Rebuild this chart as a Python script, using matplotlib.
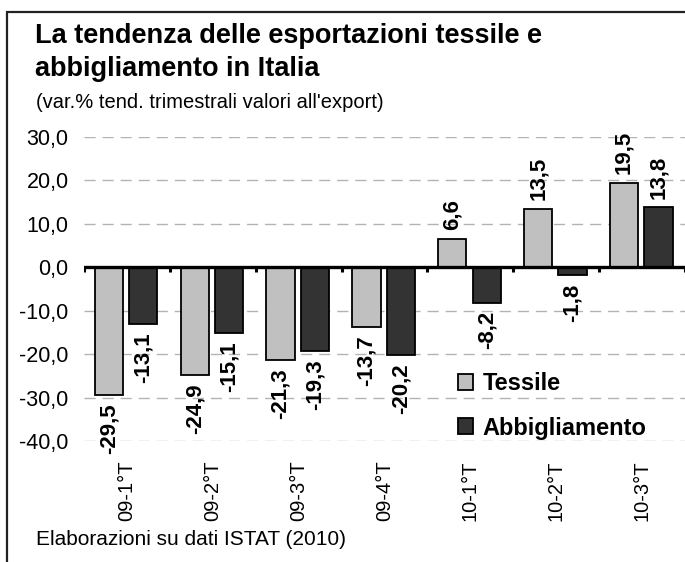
import matplotlib
matplotlib.use("Agg")
import matplotlib.pyplot as plt
from matplotlib.patches import Rectangle, Patch
import numpy as np

plt.rcParams['font.family'] = ['Liberation Sans', 'DejaVu Sans']

quarters = ["09-1°T", "09-2°T", "09-3°T", "09-4°T", "10-1°T", "10-2°T", "10-3°T"]
tessile = [-29.5, -24.9, -21.3, -13.7, 6.6, 13.5, 19.5]
abbigliamento = [-13.1, -15.1, -19.3, -20.2, -8.2, -1.8, 13.8]
series_names = ["Tessile", "Abbigliamento"]
y_ticks = [-40, -30, -20, -10, 0, 10, 20, 30]

c_tex = "#C0C0C0"
c_abb = "#333333"


def fmt(v):
    return f"{v:.1f}".replace(".", ",")


fig = plt.figure(figsize=(6.85, 5.62), dpi=100)
ax = fig.add_axes([84 / 685, 1 - 441 / 562, 601 / 685, 304 / 562])

# frame around the whole chart
fig.patches.append(Rectangle((7 / 685, -0.05), 1.2, 1 - 12 / 562 + 0.05,
                             transform=fig.transFigure, fill=False,
                             edgecolor="#222222", linewidth=1.6))

x = np.arange(len(quarters))
w = 0.33
ax.bar(x - 0.21, tessile, w, color=c_tex, edgecolor="black", linewidth=1.3, zorder=3)
ax.bar(x + 0.19, abbigliamento, w, color=c_abb, edgecolor="black", linewidth=1.3, zorder=3)

for xs, vals in ((x - 0.21, tessile), (x + 0.19, abbigliamento)):
    for xi, v in zip(xs, vals):
        off = 6 if v >= 0 else -6
        ax.annotate(fmt(v), (xi, v), xytext=(0, off), textcoords="offset points",
                    rotation=90, ha="center", va="bottom" if v >= 0 else "top",
                    fontsize=16, fontweight="bold", zorder=5)

# zero line with small ticks at group boundaries
ax.axhline(0, color="black", linewidth=2.4, zorder=4)
bounds = np.arange(len(quarters) + 1) - 0.5
ax.vlines(bounds, -1.2, 0, color="black", linewidth=2.2, zorder=4)

for t in y_ticks:
    if t != 0:
        ax.axhline(t, color="#B3B3B3", linewidth=1.0, dashes=(8, 5), zorder=1)

ax.set_xlim(-0.5, len(quarters) - 0.5)
ax.set_ylim(-40, 30)
ax.set_yticks(y_ticks, [fmt(t) for t in y_ticks], fontsize=15.5)
ax.set_xticks(x, quarters, rotation=90, fontsize=14.5)
ax.tick_params(axis="x", length=0, pad=14)
ax.tick_params(axis="y", length=0, pad=11)
for s in ax.spines.values():
    s.set_visible(False)
ax.set_facecolor("none")

handles = [Patch(facecolor=c_tex, edgecolor="black", linewidth=1.3),
           Patch(facecolor=c_abb, edgecolor="black", linewidth=1.3)]
fig.legend(handles, series_names, loc="center left", bbox_to_anchor=(458 / 685, 1 - 406 / 562),
           frameon=False, prop={"weight": "bold", "size": 17}, handlelength=0.65,
           handleheight=0.65, handletextpad=0.4, labelspacing=0.9, borderpad=0,
           borderaxespad=0)

fig.text(35 / 685, 1 - 43 / 562, "La tendenza delle esportazioni tessile e",
         fontsize=19.5, fontweight="bold", va="baseline")
fig.text(35 / 685, 1 - 76 / 562, "abbigliamento in Italia",
         fontsize=19.5, fontweight="bold", va="baseline")
fig.text(36 / 685, 1 - 108 / 562, "(var.% tend. trimestrali valori all'export)",
         fontsize=14.5, va="baseline")
fig.text(36 / 685, 1 - 545 / 562, "Elaborazioni su dati ISTAT (2010)",
         fontsize=15, va="baseline")

fig.savefig("out.png", dpi=100)
